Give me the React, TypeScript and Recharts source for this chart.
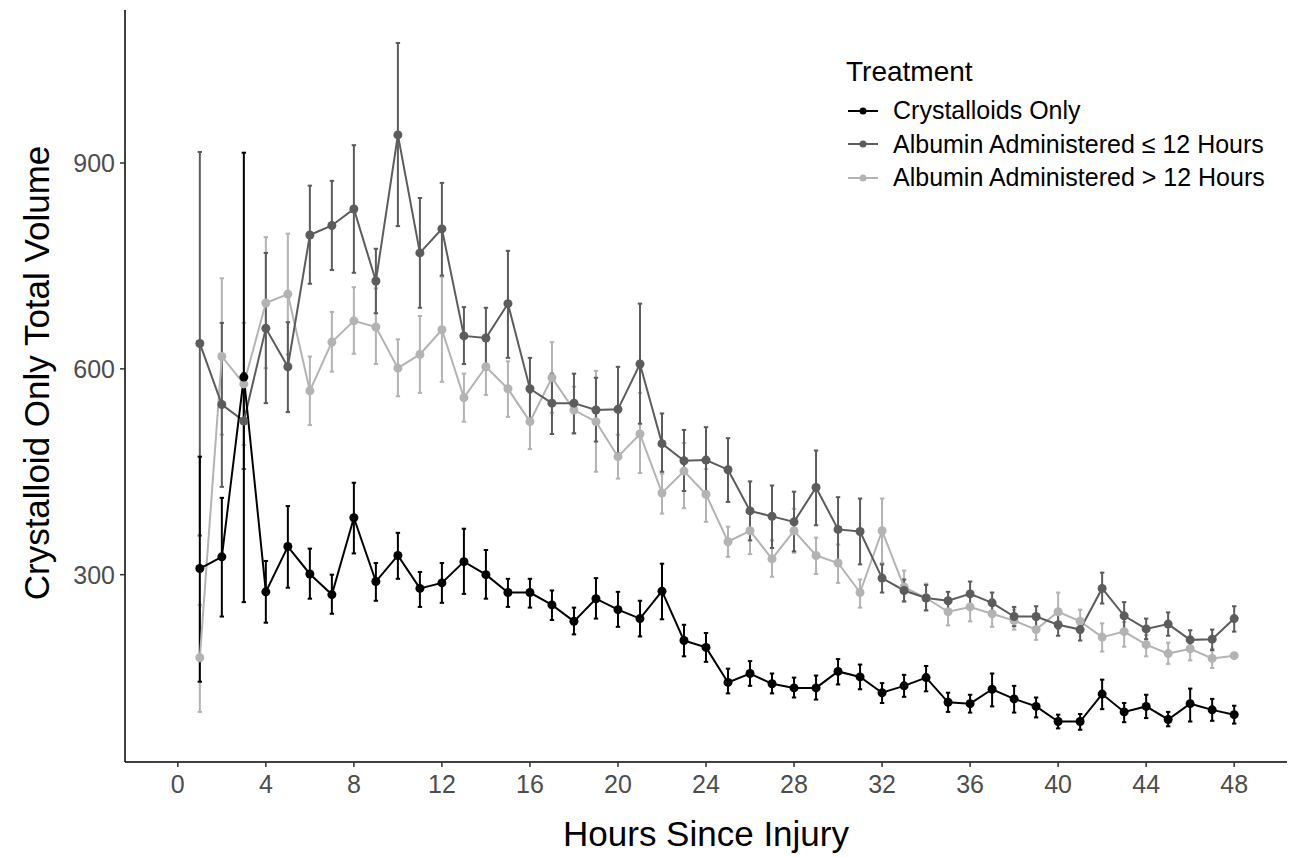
import React from 'react';
import { LineChart, Line, XAxis, YAxis, ErrorBar, Legend } from 'recharts';

const hours = [1, 2, 3, 4, 5, 6, 7, 8, 9, 10, 11, 12, 13, 14, 15, 16, 17, 18, 19, 20, 21, 22, 23, 24, 25, 26, 27, 28, 29, 30, 31, 32, 33, 34, 35, 36, 37, 38, 39, 40, 41, 42, 43, 44, 45, 46, 47, 48];

const crystMean = [309, 326, 588, 275, 341, 301, 271, 383, 290, 328, 280, 288, 319, 300, 274, 274, 256, 232, 265, 249, 236, 276, 204, 194, 143, 156, 141, 135, 135, 159, 151, 128, 138, 150, 114, 112, 133, 119, 108, 86, 86, 126, 100, 108, 89, 112, 103, 96];
const crystLow = [144, 239, 260, 230, 281, 265, 243, 331, 262, 294, 253, 259, 272, 265, 253, 252, 234, 213, 236, 224, 210, 235, 181, 173, 127, 138, 127, 121, 118, 140, 133, 113, 122, 130, 100, 99, 108, 99, 92, 76, 74, 104, 85, 91, 79, 86, 87, 83];
const crystHigh = [472, 412, 915, 320, 400, 338, 300, 434, 317, 361, 304, 317, 367, 336, 294, 294, 277, 252, 295, 275, 262, 316, 227, 215, 163, 174, 156, 150, 153, 177, 169, 142, 154, 167, 128, 125, 156, 138, 121, 96, 97, 147, 113, 125, 100, 134, 119, 109];

const earlyMean = [637, 548, 524, 659, 603, 795, 809, 833, 728, 941, 769, 804, 648, 645, 695, 571, 550, 550, 540, 541, 607, 491, 466, 467, 453, 393, 385, 377, 427, 366, 363, 295, 277, 266, 262, 272, 259, 239, 239, 227, 220, 280, 240, 221, 228, 205, 206, 236];
const earlyLow = [357, 428, 454, 550, 537, 724, 744, 740, 681, 808, 689, 736, 607, 602, 616, 526, 505, 506, 494, 477, 520, 450, 422, 421, 406, 350, 339, 334, 372, 318, 315, 274, 261, 248, 248, 254, 242, 225, 223, 211, 204, 258, 221, 206, 211, 189, 190, 217];
const earlyHigh = [916, 667, 594, 769, 668, 867, 874, 926, 775, 1075, 849, 871, 690, 689, 772, 616, 593, 593, 587, 603, 695, 535, 511, 515, 499, 436, 430, 421, 481, 413, 411, 315, 293, 285, 275, 290, 274, 253, 254, 242, 235, 303, 260, 236, 245, 219, 220, 254];

const lateMean = [179, 618, 578, 696, 709, 568, 639, 670, 661, 601, 621, 657, 558, 603, 571, 523, 587, 540, 523, 472, 505, 419, 451, 417, 348, 364, 323, 364, 328, 317, 274, 364, 282, 266, 246, 253, 243, 233, 220, 246, 232, 209, 217, 198, 185, 192, 178, 182];
const lateLow = [100, 504, 489, 601, 621, 518, 596, 622, 607, 560, 565, 581, 523, 562, 530, 483, 536, 506, 450, 440, 448, 389, 397, 377, 326, 330, 297, 332, 301, 288, 252, 317, 261, 248, 226, 232, 224, 220, 205, 221, 215, 188, 195, 181, 170, 175, 164, 179];
const lateHigh = [256, 732, 667, 792, 797, 618, 683, 719, 717, 643, 677, 734, 593, 645, 611, 565, 639, 574, 597, 504, 565, 447, 492, 454, 370, 397, 350, 396, 354, 344, 293, 411, 306, 287, 264, 272, 261, 249, 234, 274, 249, 229, 231, 212, 201, 209, 192, 185];

const xTicks = [0, 4, 8, 12, 16, 20, 24, 28, 32, 36, 40, 44, 48];
const yTicks = [300, 600, 900];

const seriesNames = ['Crystalloids Only', 'Albumin Administered \u2264 12 Hours', 'Albumin Administered > 12 Hours'];
const seriesKeys = ['cryst', 'early', 'late'];
const seriesColors = ['#000000', '#5c5c5c', '#b3b3b3'];

const data = hours.map((h, i) => ({
  hour: h,
  cryst: crystMean[i],
  crystErr: [crystMean[i] - crystLow[i], crystHigh[i] - crystMean[i]],
  early: earlyMean[i],
  earlyErr: [earlyMean[i] - earlyLow[i], earlyHigh[i] - earlyMean[i]],
  late: lateMean[i],
  lateErr: [lateMean[i] - lateLow[i], lateHigh[i] - lateMean[i]],
}));

const FONT = '"Liberation Sans", Arial, Helvetica, sans-serif';

const LegendContent = () => (
  <div style={{ fontFamily: FONT, color: '#000' }}>
    <div style={{ fontSize: 28, lineHeight: '32px', marginBottom: 6 }}>Treatment</div>
    {seriesNames.map((name, i) => (
      <div key={name} style={{ display: 'flex', alignItems: 'center', height: 33.5 }}>
        <svg width={34} height={20} style={{ marginRight: 13 }}>
          <line x1={2} y1={10} x2={32} y2={10} stroke={seriesColors[i]} strokeWidth={2} />
          <circle cx={17} cy={10} r={3.5} fill={seriesColors[i]} />
        </svg>
        <span style={{ fontSize: 25, whiteSpace: 'nowrap' }}>{name}</span>
      </div>
    ))}
  </div>
);

const YTitle = (props: any) => {
  const vb = props.viewBox || { x: 0, y: 0, width: 0, height: 0 };
  const cx = vb.x + 28;
  const cy = vb.y + vb.height / 2 - 13;
  return (
    <text
      x={cx}
      y={cy}
      transform={`rotate(-90, ${cx}, ${cy})`}
      textAnchor="middle"
      dy="0.36em"
      fontSize={35}
      fill="#000"
      fontFamily={FONT}
    >
      Crystalloid Only Total Volume
    </text>
  );
};

export default function App() {
  const order = [2, 1, 0];
  return (
    <div style={{ width: 1289, height: 849, fontFamily: FONT }}>
      <LineChart width={1289} height={849} data={data} margin={{ top: 2, right: 10, bottom: 0, left: 0 }}>
        <XAxis
          dataKey="hour"
          type="number"
          domain={[-2.4, 50.4]}
          ticks={xTicks}
          allowDataOverflow
          height={95}
          tickSize={5}
          tickMargin={8}
          axisLine={{ stroke: '#000', strokeWidth: 1.5 }}
          tickLine={{ stroke: '#333', strokeWidth: 1.5 }}
          tick={{ fill: '#4d4d4d', fontSize: 25, fontFamily: FONT }}
          label={{ value: 'Hours Since Injury', position: 'insideBottom', offset: 11, fontSize: 35, fill: '#000', fontFamily: FONT }}
        />
        <YAxis
          type="number"
          domain={[27, 1123]}
          ticks={yTicks}
          allowDataOverflow
          width={117}
          tickSize={5}
          tickMargin={5}
          axisLine={{ stroke: '#000', strokeWidth: 1.5 }}
          tickLine={{ stroke: '#333', strokeWidth: 1.5 }}
          tick={{ fill: '#4d4d4d', fontSize: 25, fontFamily: FONT }}
          label={{ content: (p: any) => <YTitle {...p} /> }}
        />
        {order.map((i) => (
          <Line
            key={'err-' + seriesKeys[i]}
            dataKey={seriesKeys[i]}
            stroke="none"
            strokeWidth={0}
            dot={false}
            activeDot={false}
            legendType="none"
            isAnimationActive={false}
          >
            <ErrorBar dataKey={seriesKeys[i] + 'Err'} width={2.2} strokeWidth={2} stroke={seriesColors[i]} direction="y" isAnimationActive={false} />
          </Line>
        ))}
        {order.map((i) => (
          <Line
            key={'line-' + seriesKeys[i]}
            dataKey={seriesKeys[i]}
            name={seriesNames[i]}
            stroke={seriesColors[i]}
            strokeWidth={2}
            dot={{ r: 4.5, fill: seriesColors[i], stroke: seriesColors[i], strokeWidth: 0 }}
            activeDot={false}
            isAnimationActive={false}
          />
        ))}
        <Legend
          layout="vertical"
          align="center"
          verticalAlign="middle"
          content={<LegendContent />}
          wrapperStyle={{ position: 'absolute', left: 838, top: 48, width: 440, height: 160 }}
        />
      </LineChart>
    </div>
  );
}
